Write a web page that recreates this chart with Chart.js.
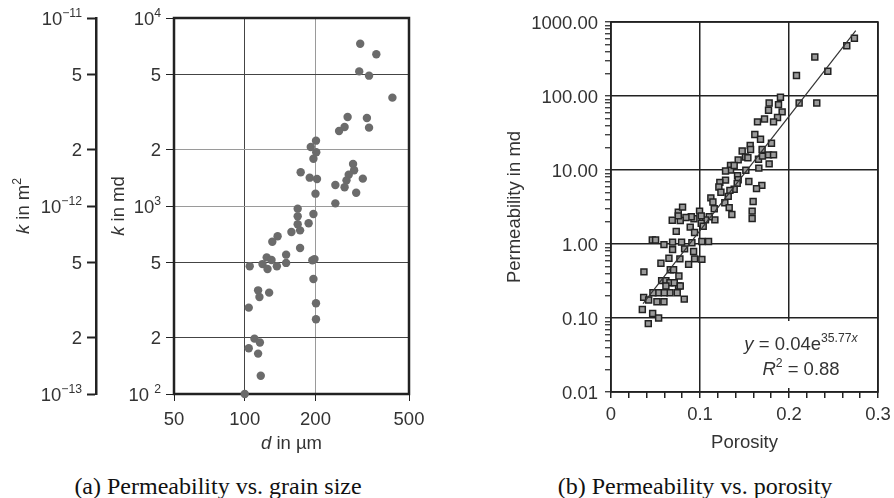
<!DOCTYPE html>
<html lang="en">
<head>
<meta charset="UTF-8">
<title>Permeability</title>
<script src="https://cdn.jsdelivr.net/npm/chart.js"></script>
<style>
  html, body { margin: 0; padding: 0; background: #fff; }
  body { width: 894px; height: 498px; position: relative; overflow: hidden; }
  canvas { position: absolute; top: 0; }
  #leftChart { left: 0; }
  #rightChart { left: 490px; }
  .caption {
    position: absolute; top: 472px; transform: translateX(-50%);
    font-family: "Liberation Serif", "DejaVu Serif", serif; font-size: 24px;
    color: #111; white-space: nowrap; line-height: 28px;
  }
</style>
</head>
<body>
  <canvas id="leftChart" width="440" height="460"></canvas>
  <canvas id="rightChart" width="404" height="460"></canvas>
  <div class="caption" style="left:218px">(a) Permeability vs. grain size</div>
  <div class="caption" style="left:695px">(b) Permeability vs. porosity</div>

<script>
// ---- (a) grain size d [µm] vs permeability k [md]
const grainSize = [310, 363, 307, 338, 425, 274, 331, 266, 252, 338, 201, 191, 201.5, 196, 289,
  292, 277, 271, 318, 266, 243, 298, 243, 173, 189, 203, 200, 168, 196, 168, 187, 168, 172, 158,
  138, 131, 172, 150, 124, 130, 119, 150, 137, 125, 105, 194, 198, 196, 114, 127, 115.5, 201, 104,
  201, 110, 116, 104, 114, 117, 100];
const grainPerm = [7300, 6410, 5200, 4935, 3770, 2975, 2940, 2632, 2506, 2611, 2226, 2060, 1930,
  1785, 1673, 1548, 1468, 1369, 1398, 1257, 1293, 1177, 1033, 1511, 1415, 1392, 1163, 968, 907,
  881, 809, 799, 742, 727, 690, 646, 598, 551, 533, 516, 491, 498, 478, 462, 478, 514, 522, 409,
  356, 346, 328, 304, 288, 250, 197, 188, 175, 164, 125, 100];

const dTicks = [50, 100, 200, 500];
const mdTicks = [100, 200, 500, 1000, 2000, 5000, 10000];
const mdTickLabels = ['10 ^{2}', '2', '5', '10^{3}', '2', '5', '10^{4}'];
const m2Ticks = [1e-13, 2e-13, 5e-13, 1e-12, 2e-12, 5e-12, 1e-11];
const m2TickLabels = ['10^{\u221213}', '2', '5', '10^{\u221212}', '2', '5', '10^{\u221211}'];

// ---- (b) porosity vs permeability [md]
const porosity = [0.2735, 0.2649, 0.229, 0.2436, 0.2084, 0.2114, 0.2312, 0.1777, 0.1904, 0.177,
  0.1882, 0.1923, 0.1871, 0.1826, 0.1725, 0.1646, 0.1616, 0.168, 0.1803, 0.1564, 0.1568, 0.1474,
  0.1698, 0.1511, 0.1538, 0.1429, 0.1777, 0.1657, 0.1702, 0.177, 0.1826, 0.1661, 0.1515, 0.1343,
  0.1343, 0.1287, 0.1422, 0.1429, 0.1418, 0.1384, 0.1287, 0.1223, 0.1212, 0.1235, 0.1336, 0.1317,
  0.1279, 0.1328, 0.1358, 0.1549, 0.1695, 0.1635, 0.1597, 0.1586, 0.1586, 0.1122, 0.1145, 0.116,
  0.1167, 0.1104, 0.1062, 0.0995, 0.1014, 0.1014, 0.1036, 0.0932, 0.0902, 0.089, 0.0939, 0.0909,
  0.0842, 0.0778, 0.0756, 0.0804, 0.0756, 0.0688, 0.0733, 0.0692, 0.0793, 0.0827, 0.0692, 0.0928,
  0.0939, 0.0872, 0.0774, 0.0651, 0.0561, 0.0595, 0.0464, 0.0501, 0.1021, 0.1096, 0.1021, 0.0666,
  0.0703, 0.0763, 0.0759, 0.0569, 0.0617, 0.0662, 0.0711, 0.0617, 0.0662, 0.0599, 0.0531, 0.0471,
  0.0516, 0.0595, 0.0744, 0.0778, 0.0823, 0.037, 0.0367, 0.0423, 0.0352, 0.0468, 0.0535, 0.0419,
  0.1384];
const porPerm = [603, 479, 337, 216, 189, 80.6, 80.6, 80.6, 96, 64.2, 76.5, 61, 51.1, 44.7, 49,
  44.7, 30.1, 26, 23, 21.4, 18.9, 18.1, 18.9, 15, 14.6, 13.7, 12.1, 14, 15.4, 16, 16, 10.6, 9.9,
  11.5, 9.96, 9.7, 8.4, 7.4, 6.6, 5.5, 7.3, 6.8, 5.9, 5.0, 5.3, 4.4, 3.6, 3.1, 2.5, 7.0, 6.2, 5.6,
  3.75, 2.78, 2.21, 4.2, 3.7, 2.99, 2.12, 2.33, 2.12, 2.78, 2.4, 1.91, 1.74, 2.19, 2.33, 1.69,
  1.43, 1.04, 2.28, 2.08, 2.69, 3.15, 2.4, 2.1, 1.48, 1.06, 1.06, 0.86, 0.84, 0.79, 0.63, 0.53,
  0.63, 0.64, 0.55, 0.98, 1.13, 1.13, 1.08, 1.08, 0.62, 0.45, 0.45, 0.37, 0.27, 0.32, 0.32, 0.30,
  0.30, 0.27, 0.22, 0.22, 0.22, 0.22, 0.166, 0.166, 0.22, 0.27, 0.18, 0.42, 0.19, 0.175, 0.13,
  0.115, 0.10, 0.084, 11.5];

// exponential fit y = 0.04 e^(35.77 x), straight on the log axis: its two ends
const fitPorosity = [0.036, 0.275];
const fitPerm = [0.156, 764];

const porTicks = [0, 0.1, 0.2, 0.3];
const porTickLabels = ['0', '0.1', '0.2', '0.3'];
const porMinorTicks = [0.02, 0.04, 0.06, 0.08, 0.12, 0.14, 0.16, 0.18, 0.22, 0.24, 0.26, 0.28];
const permTicks = [0.01, 0.1, 1, 10, 100, 1000];
const permTickLabels = ['0.01', '0.10', '1.00', '10.00', '100.00', '1000.00'];

const FS = 18.5;
const TXT = '#333';
const FAMILY = '"Liberation Sans", Arial, sans-serif';

// tiny markup: *..* italic, ^{..} superscript
function parseRich(str) {
  const parts = [];
  let it = false, sup = false, buf = '';
  const flush = () => { if (buf) parts.push({ t: buf, it, sup }); buf = ''; };
  for (let i = 0; i < str.length; i++) {
    const c = str[i];
    if (c === '*') { flush(); it = !it; }
    else if (c === '^' && str[i + 1] === '{') { flush(); sup = true; i++; }
    else if (c === '}' && sup) { flush(); sup = false; }
    else buf += c;
  }
  flush();
  return parts;
}

function drawRich(ctx, str, x, y, align, size, color) {
  const parts = parseRich(str);
  const font = p => (p.it ? 'italic ' : '') + (p.sup ? size * 0.66 : size) + 'px ' + FAMILY;
  let w = 0;
  parts.forEach(p => { ctx.font = font(p); p.w = ctx.measureText(p.t).width; w += p.w; });
  let cx = align === 'right' ? x - w : align === 'center' ? x - w / 2 : x;
  ctx.save();
  ctx.fillStyle = color;
  ctx.textBaseline = 'alphabetic';
  ctx.textAlign = 'left';
  parts.forEach(p => {
    ctx.font = font(p);
    ctx.fillText(p.t, cx, p.sup ? y - size * 0.42 : y);
    cx += p.w;
  });
  ctx.restore();
}

function drawVertical(ctx, str, x, y, size, color) {
  ctx.save();
  ctx.translate(x, y);
  ctx.rotate(-Math.PI / 2);
  drawRich(ctx, str, 0, size * 0.36, 'center', size, color);
  ctx.restore();
}

function setTicks(values) {
  return scale => { scale.ticks = values.map(v => ({ value: v })); };
}
function near(list, v) { return list.some(t => Math.abs(t - v) < 1e-9 * Math.max(1, Math.abs(t))); }

// ---------------- chart (a)
const leftDecor = {
  id: 'leftDecor',
  beforeDatasetsDraw(chart) {
    const { ctx, chartArea: a } = chart;
    ctx.save();
    ctx.strokeStyle = '#222';
    ctx.lineWidth = 2.5;
    ctx.strokeRect(a.left, a.top, a.right - a.left, a.bottom - a.top);
    ctx.restore();
  },
  afterDraw(chart) {
    const { ctx, chartArea: a, scales } = chart;
    const { x, y, y2 } = scales;
    mdTicks.forEach((v, i) => drawRich(ctx, mdTickLabels[i], y.right - 13, y.getPixelForValue(v) + FS * 0.36, 'right', FS, TXT));
    m2Ticks.forEach((v, i) => drawRich(ctx, m2TickLabels[i], y2.right - 14, y2.getPixelForValue(v) + FS * 0.36, 'right', FS, TXT));
    dTicks.forEach(v => drawRich(ctx, String(v), x.getPixelForValue(v), x.top + 31, 'center', FS, TXT));
    const midY = (a.top + a.bottom) / 2;
    drawVertical(ctx, '*k* in md', y.left + 21, midY, FS, TXT);
    drawVertical(ctx, '*k* in m^{2}', y2.left + 22, midY, FS, TXT);
    drawRich(ctx, '*d* in \u00b5m', (a.left + a.right) / 2, x.top + 55, 'center', FS, TXT);
  }
};

new Chart(document.getElementById('leftChart'), {
  type: 'scatter',
  data: {
    datasets: [{
      data: grainSize.map((d, i) => ({ x: d, y: grainPerm[i] })),
      backgroundColor: '#6b6b6b',
      borderWidth: 0,
      pointRadius: 4.2,
      clip: false
    }]
  },
  options: {
    responsive: false,
    animation: false,
    events: [],
    layout: { padding: { top: 18, right: 31, left: 0, bottom: 0 } },
    plugins: { legend: { display: false }, tooltip: { enabled: false } },
    scales: {
      x: {
        type: 'logarithmic', min: 50, max: 500,
        afterBuildTicks: setTicks(dTicks),
        afterFit: s => { s.height = 66; },
        ticks: { display: false },
        border: { display: false },
        grid: {
          tickLength: 7, tickColor: '#222', lineWidth: 1,
          color: c => c.tick && c.tick.value === 200 ? '#9a9a9a' : '#444'
        }
      },
      y: {
        type: 'logarithmic', min: 100, max: 10000, weight: 0,
        afterBuildTicks: setTicks(mdTicks),
        afterFit: s => { s.width = 78; },
        ticks: { display: false },
        border: { display: false },
        grid: {
          tickLength: 8, tickColor: '#222', lineWidth: 1,
          color: c => c.tick && (c.tick.value === 1000 || c.tick.value === 2000) ? '#9a9a9a' : '#444'
        }
      },
      y2: {
        type: 'logarithmic', position: 'left', min: 1e-13, max: 1e-11, weight: 1,
        afterBuildTicks: setTicks(m2Ticks),
        afterFit: s => { s.width = 96; },
        ticks: { display: false },
        border: { display: true, color: '#222', width: 2.5 },
        grid: { drawOnChartArea: false, tickLength: 9, tickColor: '#222', tickWidth: 2 }
      }
    }
  },
  plugins: [leftDecor]
});

// ---------------- chart (b)
const permAllTicks = [];
permTicks.forEach((t, i) => {
  permAllTicks.push(t);
  if (i < permTicks.length - 1) for (let m = 2; m <= 9; m++) permAllTicks.push(t * m);
});
const porAllTicks = porTicks.concat(porMinorTicks).sort((a, b) => a - b);

const rightDecor = {
  id: 'rightDecor',
  beforeDatasetsDraw(chart) {
    const { ctx, chartArea: a, scales } = chart;
    ctx.save();
    // white box behind the fit equation hides the gridline there
    const boxTop = scales.y.getPixelForValue(0.1) + 3;
    ctx.fillStyle = '#fff';
    ctx.fillRect(a.right - 142, boxTop, 134, a.bottom - 4 - boxTop);
    ctx.strokeStyle = '#222';
    ctx.lineWidth = 1.6;
    ctx.strokeRect(a.left, a.top, a.right - a.left, a.bottom - a.top);
    ctx.restore();
  },
  afterDraw(chart) {
    const { ctx, chartArea: a, scales } = chart;
    const { x, y } = scales;
    permTicks.forEach((v, i) => drawRich(ctx, permTickLabels[i], y.right - 13, y.getPixelForValue(v) + FS * 0.36, 'right', FS, TXT));
    porTicks.forEach((v, i) => drawRich(ctx, porTickLabels[i], x.getPixelForValue(v), x.top + 28, 'center', FS, TXT));
    drawVertical(ctx, 'Permeability in md', y.left + 23, (a.top + a.bottom) / 2, FS, TXT);
    drawRich(ctx, 'Porosity', (a.left + a.right) / 2, x.top + 56, 'center', FS, TXT);
    drawRich(ctx, '*y* = 0.04e^{35.77*x*}', a.right - 77, a.bottom - 42, 'center', FS, TXT);
    drawRich(ctx, '*R*^{2} = 0.88', a.right - 77, a.bottom - 17, 'center', FS, TXT);
  }
};

new Chart(document.getElementById('rightChart'), {
  type: 'scatter',
  data: {
    datasets: [{
      type: 'line',
      data: fitPorosity.map((p, i) => ({ x: p, y: fitPerm[i] })),
      borderColor: '#333',
      borderWidth: 1.2,
      pointRadius: 0,
      fill: false
    }, {
      data: porosity.map((p, i) => ({ x: p, y: porPerm[i] })),
      pointStyle: 'rect',
      pointRadius: 4.2,
      backgroundColor: '#9a9a9a',
      borderColor: '#222',
      borderWidth: 1.5
    }]
  },
  options: {
    responsive: false,
    animation: false,
    events: [],
    layout: { padding: { top: 22, right: 16, left: 0, bottom: 0 } },
    plugins: { legend: { display: false }, tooltip: { enabled: false } },
    scales: {
      x: {
        type: 'linear', min: 0, max: 0.3,
        afterBuildTicks: setTicks(porAllTicks),
        afterFit: s => { s.height = 68; },
        ticks: { display: false },
        border: { display: false },
        grid: {
          tickLength: 6, tickColor: '#222', lineWidth: 1.5, tickWidth: 1.5,
          color: c => c.tick && near(porTicks, c.tick.value) ? '#222' : 'rgba(0,0,0,0)'
        }
      },
      y: {
        type: 'logarithmic', min: 0.01, max: 1000,
        afterBuildTicks: setTicks(permAllTicks),
        afterFit: s => { s.width = 121; },
        ticks: { display: false },
        border: { display: false },
        grid: {
          tickLength: 6, tickColor: '#222', lineWidth: 1.5, tickWidth: 1.2,
          color: c => c.tick && near(permTicks, c.tick.value) ? '#222' : 'rgba(0,0,0,0)'
        }
      }
    }
  },
  plugins: [rightDecor]
});
</script>
</body>
</html>
